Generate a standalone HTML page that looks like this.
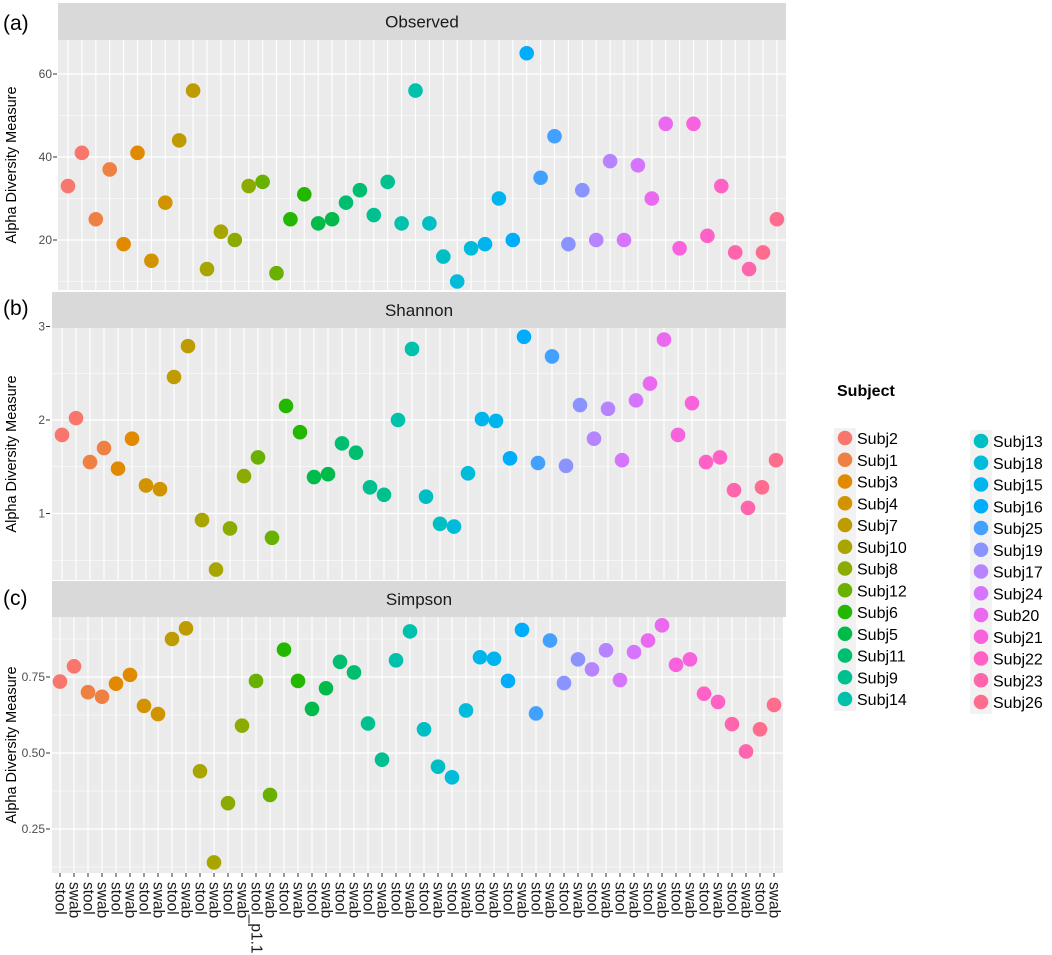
<!DOCTYPE html>
<html><head><meta charset="utf-8"><style>
body{margin:0;background:#fff;}
svg{display:block;font-family:"Liberation Sans",sans-serif;}
</style></head><body>
<svg id="chart" width="1052" height="955" viewBox="0 0 1052 955" xmlns="http://www.w3.org/2000/svg"></svg>
<script>
const subjects = ["Subj2","Subj1","Subj3","Subj4","Subj7","Subj10","Subj8","Subj12","Subj6","Subj5","Subj11","Subj9","Subj14","Subj13","Subj18","Subj15","Subj16","Subj25","Subj19","Subj17","Subj24","Sub20","Subj21","Subj22","Subj23","Subj26"];
const sampleLabels = ["stool","swab","stool","swab","stool","swab","stool","swab","stool","swab","stool","swab","stool","swab","stool_p1.1","swab","stool","swab","stool","swab","stool","swab","stool","swab","stool","swab","stool","swab","stool","swab","stool","swab","stool","swab","stool","swab","stool","swab","stool","swab","stool","swab","stool","swab","stool","swab","stool","swab","stool","swab","stool","swab"];
const observed = [33,41,25,37,19,41,15,29,44,56,13,22,20,33,34,12,25,31,24,25,29,32,26,34,24,56,24,16,10,18,19,30,20,65,35,45,19,32,20,39,20,38,30,48,18,48,21,33,17,13,17,25];
const shannon = [1.84,2.02,1.55,1.70,1.48,1.80,1.30,1.26,2.46,2.79,0.93,0.40,0.84,1.40,1.60,0.74,2.15,1.87,1.39,1.42,1.75,1.65,1.28,1.20,2.00,2.76,1.18,0.89,0.86,1.43,2.01,1.99,1.59,2.89,1.54,2.68,1.51,2.16,1.80,2.12,1.57,2.21,2.39,2.86,1.84,2.18,1.55,1.60,1.25,1.06,1.28,1.57];
const simpson = [0.735,0.785,0.70,0.685,0.728,0.757,0.655,0.628,0.875,0.91,0.44,0.14,0.335,0.59,0.737,0.362,0.84,0.737,0.645,0.713,0.80,0.765,0.597,0.478,0.805,0.90,0.578,0.455,0.42,0.64,0.815,0.81,0.737,0.905,0.63,0.87,0.73,0.808,0.775,0.838,0.74,0.832,0.87,0.92,0.79,0.808,0.695,0.668,0.595,0.505,0.578,0.658];
const obsTicks = [20,40,60];
const shanTicks = [1,2,3];
const simpTicks = [0.25,0.50,0.75];

function hcl(h){
  const L=65,C=100,r=h*Math.PI/180;
  const un=0.197839,vn=0.468342;
  const Y=Math.pow((L+16)/116,3);
  const u=C*Math.cos(r)/(13*L)+un, v=C*Math.sin(r)/(13*L)+vn;
  const X=Y*9*u/(4*v), Z=Y*(12-3*u-20*v)/(4*v);
  let R=3.2404542*X-1.5371385*Y-0.4985314*Z;
  let G=-0.9692660*X+1.8760108*Y+0.0415560*Z;
  let B=0.0556434*X-0.2040259*Y+1.0572252*Z;
  const g=c=>{c=c<=0.0031308?12.92*c:1.055*Math.pow(c,1/2.4)-0.055;return Math.round(Math.max(0,Math.min(1,c))*255);};
  return `rgb(${g(R)},${g(G)},${g(B)})`;
}
const colors = subjects.map((s,i)=>hcl(15+360*i/subjects.length));

const NS="http://www.w3.org/2000/svg";
const svg=document.getElementById('chart');
function el(tag,attrs,parent){const e=document.createElementNS(NS,tag);for(const k in attrs)e.setAttribute(k,attrs[k]);(parent||svg).appendChild(e);return e;}

const panels=[
 {name:"observed",title:"Observed",tag:"(a)",vals:observed,ticks:obsTicks,fmt:v=>String(v),
  left:58,right:786,top:40,bottom:290,stripTop:3,stripLeft:58,x0:68,dx:13.9,
  yRef:40,yRefPx:157,scale:4.15,grid:[10,20,30,40,50,60],tickX:52,tagY:30},
 {name:"shannon",title:"Shannon",tag:"(b)",vals:shannon,ticks:shanTicks,fmt:v=>String(v),
  left:52,right:786,top:328,bottom:580,stripTop:292,stripLeft:52,x0:62,dx:14,
  yRef:2,yRefPx:420,scale:93.5,grid:[0.5,1,1.5,2,2.5,3],tickX:45,tagY:315},
 {name:"simpson",title:"Simpson",tag:"(c)",vals:simpson,ticks:simpTicks,fmt:v=>v.toFixed(2),
  left:52,right:783,top:617,bottom:873,stripTop:581,stripLeft:52,x0:60,dx:14,
  yRef:0.75,yRefPx:677,scale:304,grid:[0.125,0.25,0.375,0.5,0.625,0.75,0.875],tickX:45,tagY:605}
];

panels.forEach(p=>{
  const g=el('g',{});
  
  
  const yS=v=>p.yRefPx-(v-p.yRef)*p.scale;
  const xS=i=>p.x0+i*p.dx;
  const bg=el('rect',{x:p.left,y:p.top,width:p.right-p.left,height:p.bottom-p.top,fill:'#ebebeb'},g);
  
  
  p.grid.forEach(v=>{
    const y=yS(v); if(y<p.top||y>p.bottom)return;
    const major=p.ticks.some(t=>Math.abs(t-v)<1e-9);
    const ln=el('line',{x1:p.left,x2:p.right,y1:y,y2:y,stroke:'#fff','stroke-width':major?1.3:0.6},g);
    
    
  });
  p.vals.forEach((v,i)=>{
    const ln=el('line',{x1:xS(i),x2:xS(i),y1:p.top,y2:p.bottom,stroke:'#fff','stroke-width':1.1},g);
    
    
  });
  const strip=el('rect',{x:p.stripLeft,y:p.stripTop,width:786-p.stripLeft,height:p.top-p.stripTop,fill:'#d9d9d9'},g);
  
  
  const st=el('text',{x:(p.stripLeft+786)/2,y:(p.stripTop+p.top)/2+6,'text-anchor':'middle','font-size':17,fill:'#1a1a1a'},g);
  st.textContent=p.title;
  
  
  const tg=el('text',{x:3,y:p.tagY,'font-size':21,fill:'#000'},g);
  tg.textContent=p.tag;
  
  
  p.ticks.forEach(t=>{
    const y=yS(t);
    const tk=el('line',{x1:p.tickX+1,x2:p.tickX+5,y1:y,y2:y,stroke:'#333','stroke-width':1},g);
    
    
    const tl=el('text',{x:p.tickX,y:y+4,'text-anchor':'end','font-size':12,fill:'#4d4d4d'},g);
    tl.textContent=p.fmt(t);
    
    
  });
  const yt=el('text',{transform:`translate(16,${(p.top+p.bottom)/2}) rotate(-90)`,'text-anchor':'middle','font-size':14.5,fill:'#000'},g);
  yt.textContent='Alpha Diversity Measure';
  
  
  p.vals.forEach((v,i)=>{
    const c=el('circle',{cx:xS(i),cy:yS(v),r:7.3,fill:colors[Math.floor(i/2)]},g);
    
    
  });
  if(p.name==='simpson'){
    sampleLabels.forEach((s,i)=>{
      const tk=el('line',{x1:xS(i),x2:xS(i),y1:p.bottom,y2:p.bottom+4,stroke:'#333','stroke-width':1},g);
      
      
      const t=el('text',{transform:`translate(${xS(i)},${p.bottom+9}) rotate(90)`,'dominant-baseline':'central','font-size':15.5,fill:'#1a1a1a'},g);
      t.textContent=s;
      
      
    });
  }
});

// legend
const lg=el('g',{});


const lt=el('text',{x:837,y:396,'font-size':16,'font-weight':'bold',fill:'#000'},lg);
lt.textContent='Subject';


const bg1=el('rect',{x:834,y:428,width:22,height:283,fill:'#f2f2f2'},lg);


const bg2=el('rect',{x:970,y:430,width:22,height:284,fill:'#f2f2f2'},lg);


subjects.forEach((s,i)=>{
  const col=i<13?0:1, r=i%13;
  const cx=col?981:845, cy=(col?441:438)+r*21.75;
  const e=el('g',{},lg);
  
  
  el('circle',{cx:cx,cy:cy,r:7.3,fill:colors[i]},e);
  const t=el('text',{x:cx+12,y:cy+6,'font-size':16,fill:'#000'},e);
  t.textContent=s;
});
</script>
</body></html>
